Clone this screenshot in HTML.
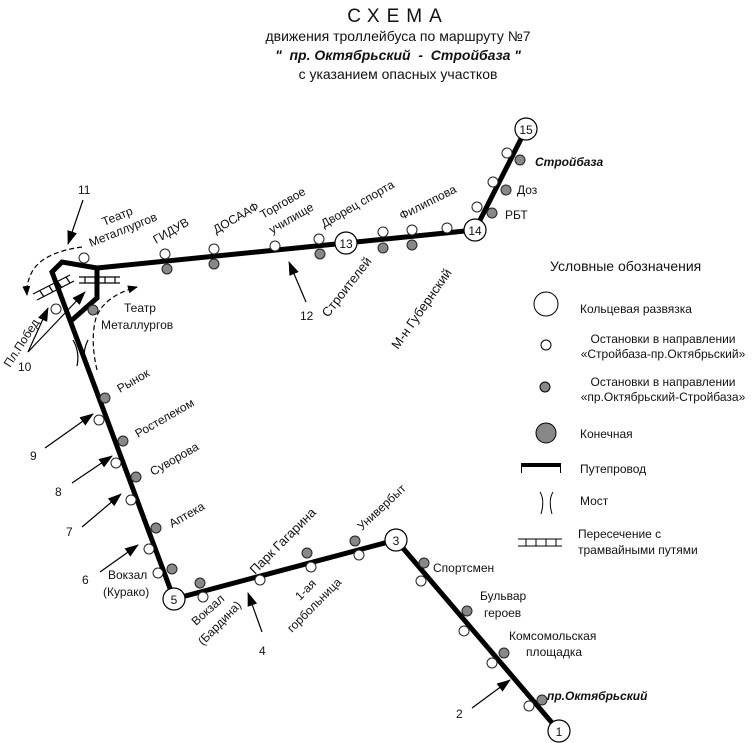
<!DOCTYPE html>
<html><head><meta charset="utf-8"><style>
html,body{margin:0;padding:0;background:#fff}
svg{display:block}
text{font-family:"Liberation Sans",sans-serif;fill:#111}
</style></head><body>
<svg width="756" height="743" viewBox="0 0 756 743" xmlns="http://www.w3.org/2000/svg">
<defs>
<marker id="ah" markerWidth="10" markerHeight="8" refX="9" refY="4" orient="auto" markerUnits="userSpaceOnUse"><path d="M0,0 L10,4 L0,8 z" fill="#000"/></marker>
<marker id="ah2" markerWidth="14" markerHeight="10" refX="13" refY="5" orient="auto" markerUnits="userSpaceOnUse"><path d="M0,0 L14,5 L0,10 z" fill="#000"/></marker>
</defs>
<!-- Title -->
<text x="398" y="22" font-size="19" text-anchor="middle" letter-spacing="7">СХЕМА</text>
<text x="398" y="41" font-size="14" text-anchor="middle">движения троллейбуса по маршруту №7</text>
<text x="398" y="60" font-size="14" text-anchor="middle" font-weight="bold" font-style="italic" xml:space="preserve">"  пр. Октябрьский  -  Стройбаза "</text>
<text x="398" y="79" font-size="14" text-anchor="middle">с указанием опасных участков</text>

<!-- Route -->
<g stroke="#000" stroke-width="5" fill="none" stroke-linejoin="miter">
<polyline points="559,731 396,540 174,599 52,272 62,262 97,268 97,298 72,320"/>
<polyline points="97,268 346,243 475,230 526,129"/>
</g>

<!-- tram crossings -->
<g stroke="#000" stroke-width="1.2" fill="none">
<line x1="79" y1="277" x2="120" y2="277"/><line x1="79" y1="283" x2="120" y2="283"/>
<line x1="85" y1="277" x2="85" y2="283"/><line x1="95" y1="277" x2="95" y2="283"/><line x1="105" y1="277" x2="105" y2="283"/><line x1="115" y1="277" x2="115" y2="283"/>
<line x1="33" y1="294" x2="70" y2="275"/><line x1="37" y1="300" x2="74" y2="281"/>
<line x1="40" y1="291" x2="44" y2="297"/><line x1="49" y1="286" x2="53" y2="292"/><line x1="58" y1="282" x2="62" y2="288"/><line x1="66" y1="277" x2="70" y2="283"/>
<!-- bridge -->
<path d="M73,340 Q80,352 77,366"/><path d="M88,340 Q82,352 85,366"/>
</g>
<!-- dashed arrows -->
<g stroke="#000" stroke-width="1.2" fill="none" stroke-dasharray="5,3">
<path d="M82,247 Q45,252 33,270 Q26,282 27,295" marker-end="url(#ah)"/>
<path d="M97,370 Q90,340 96,318 Q104,296 137,287" marker-end="url(#ah)"/>
</g>
<!-- solid arrows -->
<g stroke="#000" stroke-width="1.2" fill="none" marker-end="url(#ah2)">
<line x1="83" y1="200" x2="68" y2="244"/>
<line x1="28" y1="352" x2="48" y2="308"/>
<line x1="28" y1="352" x2="85" y2="292"/>
<line x1="45" y1="448" x2="93" y2="414"/>
<line x1="72" y1="483" x2="112" y2="456"/>
<line x1="82" y1="527" x2="121" y2="494"/>
<line x1="100" y1="572" x2="138" y2="545"/>
<line x1="262" y1="632" x2="248" y2="593"/>
<line x1="306" y1="302" x2="289" y2="262"/>
<line x1="472" y1="708" x2="510" y2="680"/>
</g>

<!-- stops -->
<g stroke="#222" stroke-width="1" fill="#fff">
<circle cx="84" cy="258" r="5"/><circle cx="56" cy="309" r="5"/>
<circle cx="165" cy="254" r="5"/><circle cx="214" cy="249" r="5"/><circle cx="275" cy="246" r="5"/>
<circle cx="319" cy="239" r="5"/><circle cx="383" cy="232" r="5"/><circle cx="412" cy="230" r="5"/><circle cx="447" cy="228" r="5"/>
<circle cx="477" cy="207" r="5"/><circle cx="493" cy="182" r="5"/><circle cx="507" cy="153" r="5"/>
<circle cx="99" cy="420" r="5"/><circle cx="116" cy="463" r="5"/><circle cx="131" cy="500" r="5"/><circle cx="149" cy="549" r="5"/><circle cx="158" cy="573" r="5"/>
<circle cx="203" cy="597" r="5"/><circle cx="260" cy="580" r="5"/><circle cx="311" cy="567" r="5"/><circle cx="359" cy="555" r="5"/>
<circle cx="421" cy="581" r="5"/><circle cx="464" cy="631" r="5"/><circle cx="492" cy="663" r="5"/><circle cx="529" cy="706" r="5"/>
</g>
<g stroke="#222" stroke-width="1" fill="#888">
<circle cx="93" cy="310" r="5"/>
<circle cx="167" cy="269" r="5"/><circle cx="214" cy="264" r="5"/><circle cx="320" cy="254" r="5"/><circle cx="383" cy="248" r="5"/><circle cx="412" cy="245" r="5"/>
<circle cx="492" cy="213" r="5"/><circle cx="506" cy="190" r="5"/><circle cx="520" cy="160" r="5"/>
<circle cx="105" cy="398" r="5"/><circle cx="123" cy="441" r="5"/><circle cx="136" cy="477" r="5"/><circle cx="156" cy="528" r="5"/><circle cx="172" cy="569" r="5"/>
<circle cx="200" cy="583" r="5"/><circle cx="307" cy="553" r="5"/><circle cx="355" cy="541" r="5"/>
<circle cx="424" cy="563" r="5"/><circle cx="467" cy="611" r="5"/><circle cx="504" cy="653" r="5"/><circle cx="542" cy="700" r="5"/>
</g>

<!-- numbered rings -->
<g stroke="#000" stroke-width="1.2" fill="#fff">
<circle cx="526" cy="129" r="11"/><circle cx="475" cy="230" r="11"/><circle cx="346" cy="243" r="11"/>
<circle cx="396" cy="540" r="11"/><circle cx="174" cy="599" r="11"/><circle cx="559" cy="731" r="11"/>
</g>
<g font-size="12" text-anchor="middle">
<text x="526" y="134">15</text><text x="475" y="235">14</text><text x="346" y="248">13</text>
<text x="396" y="545">3</text><text x="174" y="604">5</text><text x="559" y="736">1</text>
</g>

<!-- labels -->
<g font-size="12">
<text transform="translate(104,226) rotate(-22)">Театр</text>
<text transform="translate(91,247) rotate(-22)">Металлургов</text>
<text transform="translate(156,244) rotate(-30)">ГИДУВ</text>
<text transform="translate(216,234) rotate(-30)">ДОСААФ</text>
<text transform="translate(263,219) rotate(-30)">Торговое</text>
<text transform="translate(272,234) rotate(-30)">училище</text>
<text transform="translate(324,228) rotate(-30)">Дворец спорта</text>
<text transform="translate(402,220) rotate(-27)">Филиппова</text>
<text transform="translate(328,318) rotate(-52)" font-size="13">Строителей</text>
<text transform="translate(398,350) rotate(-55)" font-size="13">М-н Губернский</text>
<text x="535" y="166" font-weight="bold" font-style="italic">Стройбаза</text>
<text x="517" y="194">Доз</text>
<text x="505" y="219">РБТ</text>
<text x="124" y="312">Театр</text>
<text x="101" y="329">Металлургов</text>
<text transform="translate(10,368) rotate(-57)">Пл.Побед</text>
<text transform="translate(120,393) rotate(-30)">Рынок</text>
<text transform="translate(138,438) rotate(-30)">Ростелеком</text>
<text transform="translate(153,476) rotate(-30)">Суворова</text>
<text transform="translate(172,528) rotate(-30)">Аптека</text>
<text x="108" y="579">Вокзал</text>
<text x="103" y="596">(Курако)</text>
<text transform="translate(196,626) rotate(-42)">Вокзал</text>
<text transform="translate(203,646) rotate(-46)">(Бардина)</text>
<text transform="translate(255,575) rotate(-45)" font-size="13">Парк Гагарина</text>
<text transform="translate(300,601) rotate(-45)">1-ая</text>
<text transform="translate(292,633) rotate(-45)">горбольница</text>
<text transform="translate(362,531) rotate(-43)">Универбыт</text>
<text x="433" y="572">Спортсмен</text>
<text x="480" y="600">Бульвар</text>
<text x="484" y="617">героев</text>
<text x="509" y="640">Комсомольская</text>
<text x="526" y="656">площадка</text>
<text x="547" y="700" font-weight="bold" font-style="italic">пр.Октябрьский</text>
<text x="78" y="194">11</text>
<text x="18" y="371">10</text>
<text x="30" y="460">9</text>
<text x="55" y="496">8</text>
<text x="66" y="536">7</text>
<text x="82" y="584">6</text>
<text x="259" y="655">4</text>
<text x="300" y="320">12</text>
<text x="456" y="718">2</text>
</g>

<!-- legend -->
<text x="550" y="271" font-size="14">Условные обозначения</text>
<g stroke="#000" stroke-width="1">
<circle cx="546" cy="304" r="12" fill="#fff"/>
<circle cx="546" cy="345" r="5" fill="#fff"/>
<circle cx="545" cy="387" r="5" fill="#888"/>
<circle cx="546" cy="433" r="10" fill="#888"/>
<line x1="521" y1="465" x2="561" y2="465" stroke-width="4"/>
<line x1="521.5" y1="465" x2="521.5" y2="473"/><line x1="560.5" y1="465" x2="560.5" y2="473"/>
<path d="M540,492 Q545,500 541,514" fill="none"/><path d="M553,492 Q548,500 552,514" fill="none"/>
<line x1="518" y1="539" x2="562" y2="539"/><line x1="518" y1="546" x2="562" y2="546"/>
<line x1="526" y1="539" x2="526" y2="546"/><line x1="536" y1="539" x2="536" y2="546"/><line x1="546" y1="539" x2="546" y2="546"/><line x1="556" y1="539" x2="556" y2="546"/>
</g>
<g font-size="12">
<text x="580" y="313">Кольцевая развязка</text>
<text x="663" y="343" text-anchor="middle">Остановки в направлении</text>
<text x="663" y="358" text-anchor="middle">«Стройбаза-пр.Октябрьский»</text>
<text x="663" y="386" text-anchor="middle">Остановки в направлении</text>
<text x="663" y="401" text-anchor="middle">«пр.Октябрьский-Стройбаза»</text>
<text x="580" y="438">Конечная</text>
<text x="580" y="473">Путепровод</text>
<text x="580" y="505">Мост</text>
<text x="578" y="538">Пересечение с</text>
<text x="578" y="554">трамвайными путями</text>
</g>
</svg>
</body></html>
